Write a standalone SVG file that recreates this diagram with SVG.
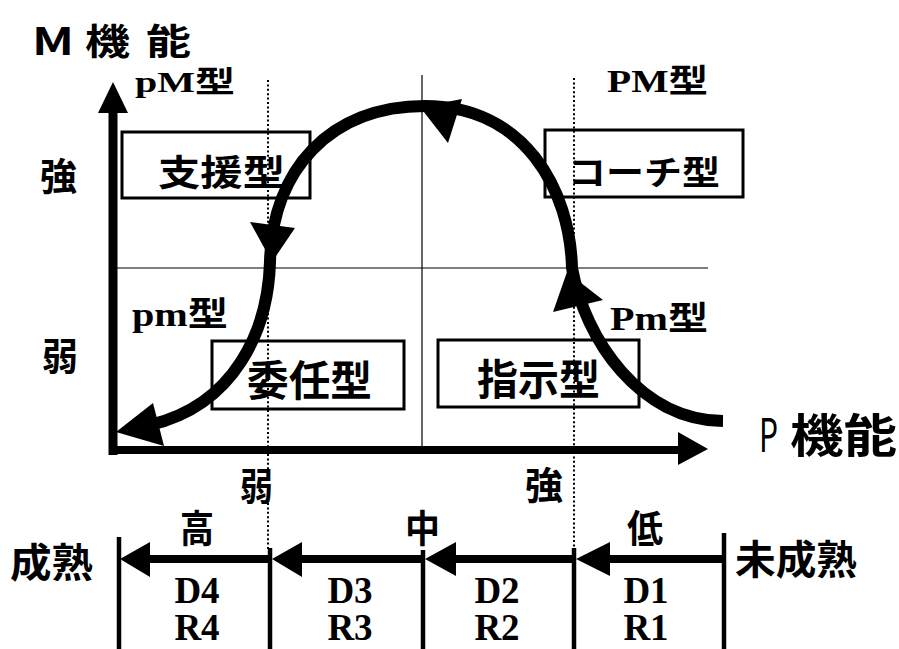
<svg xmlns="http://www.w3.org/2000/svg" width="899" height="649" viewBox="0 0 899 649">
<style>
.g{font-family:"Noto Sans CJK JP","Noto Sans",sans-serif;font-weight:700;fill:#000}
.gn{font-family:"Noto Sans CJK JP","Noto Sans",sans-serif;font-weight:400;fill:#000}
.s{font-family:"Liberation Serif","Noto Sans CJK JP",serif;font-weight:700;fill:#000}
.box{fill:none;stroke:#000;stroke-width:3}
.thin{stroke:#000;stroke-width:1.2;fill:none}
.dot{stroke:#000;stroke-width:2;stroke-dasharray:2 2.4;fill:none}
.curve{fill:none;stroke:#000;stroke-width:12}
.ax{stroke:#000;fill:none}
</style>
<rect width="899" height="649" fill="#fff"/>

<g id="grid">
<line class="thin" x1="113" y1="268" x2="708" y2="268"/>
<line class="thin" x1="422" y1="75" x2="422" y2="452"/>
<line class="dot" x1="268" y1="80" x2="268" y2="470"/>
<line class="dot" x1="268" y1="503" x2="268" y2="550"/>
<line class="dot" x1="574" y1="78" x2="574" y2="550"/>
</g>

<g id="node-shien"><rect class="box" x="122" y="132" width="188" height="66"/>
<text class="g" x="158" y="186" font-size="36" textLength="127" lengthAdjust="spacingAndGlyphs">支援型</text></g>
<g id="node-coach"><rect class="box" x="545" y="130" width="198" height="67"/>
<text class="g" x="568" y="185" font-size="34" textLength="152" lengthAdjust="spacingAndGlyphs">コーチ型</text></g>
<g id="node-inin"><rect class="box" x="212" y="341" width="192" height="68"/>
<text class="g" x="247" y="396" font-size="42" textLength="125" lengthAdjust="spacingAndGlyphs">委任型</text></g>
<g id="node-shiji"><rect class="box" x="438" y="340" width="201" height="67"/>
<text class="g" x="477" y="395" font-size="42" textLength="123" lengthAdjust="spacingAndGlyphs">指示型</text></g>

<g id="labels">
<text class="g" x="32" y="55" font-size="38" textLength="42" lengthAdjust="spacingAndGlyphs">M</text>
<text class="g" x="85" y="55" font-size="36" textLength="45" lengthAdjust="spacingAndGlyphs">機</text>
<text class="g" x="146" y="55" font-size="36" textLength="45" lengthAdjust="spacingAndGlyphs">能</text>
<text class="gn" x="759" y="452" font-size="46" textLength="19" lengthAdjust="spacingAndGlyphs">P</text>
<text class="g" x="790" y="452" font-size="46" textLength="107" lengthAdjust="spacingAndGlyphs">機能</text>
<text class="g" x="40" y="190" font-size="38" textLength="37" lengthAdjust="spacingAndGlyphs">強</text>
<text class="g" x="42" y="370" font-size="38" textLength="36" lengthAdjust="spacingAndGlyphs">弱</text>
<text class="s" x="135" y="92" font-size="30" textLength="100" lengthAdjust="spacingAndGlyphs">pM型</text>
<text class="s" x="607" y="92" font-size="32" textLength="101" lengthAdjust="spacingAndGlyphs">PM型</text>
<text class="s" x="132" y="326" font-size="34" textLength="96" lengthAdjust="spacingAndGlyphs">pm型</text>
<text class="s" x="610" y="330" font-size="33" textLength="98" lengthAdjust="spacingAndGlyphs">Pm型</text>
<text class="g" x="240" y="500" font-size="38" textLength="33" lengthAdjust="spacingAndGlyphs">弱</text>
<text class="g" x="525" y="499" font-size="38" textLength="38" lengthAdjust="spacingAndGlyphs">強</text>
<text class="g" x="180" y="542" font-size="38" textLength="34" lengthAdjust="spacingAndGlyphs">高</text>
<text class="g" x="405" y="542" font-size="38" textLength="35" lengthAdjust="spacingAndGlyphs">中</text>
<text class="g" x="627" y="542" font-size="38" textLength="36" lengthAdjust="spacingAndGlyphs">低</text>
<text class="g" x="10" y="577" font-size="40" textLength="83" lengthAdjust="spacingAndGlyphs">成熟</text>
<text class="g" x="735" y="574" font-size="40" textLength="122" lengthAdjust="spacingAndGlyphs">未成熟</text>
<g class="s" font-size="37" text-anchor="middle">
<text x="197" y="603">D4</text><text x="197" y="640">R4</text>
<text x="350" y="603">D3</text><text x="350" y="640">R3</text>
<text x="497" y="603">D2</text><text x="497" y="640">R2</text>
<text x="646" y="603">D1</text><text x="646" y="640">R1</text>
</g>
</g>

<g id="connectors">
<line class="ax" x1="113" y1="110" x2="113" y2="455" stroke-width="9"/>
<polygon points="113,82 98,113 128,113"/>
<line class="ax" x1="109" y1="450" x2="682" y2="450" stroke-width="8"/>
<polygon points="708,449 678,432 678,465"/>
<path class="curve" d="M723,421 C640,420 585,340 572,268 C570,190 525,106 425,106 C330,106 272,170 270,262 C268,330 235,405 150,425"/>
<polygon points="567,272 553,312 603,300"/>
<polygon points="420,107 462,99 448,143"/>
<polygon points="272,262 250,222 295,228"/>
<polygon points="116,432 153,403 164,446"/>
<g stroke="#000" stroke-width="4.5">
<line x1="119" y1="537" x2="119" y2="649"/>
<line x1="270" y1="548" x2="270" y2="649"/>
<line x1="423" y1="550" x2="423" y2="649"/>
<line x1="574" y1="548" x2="574" y2="649"/>
<line x1="724" y1="533" x2="724" y2="649"/>
</g>
<g stroke="#000" stroke-width="8">
<line x1="145" y1="559" x2="270" y2="559"/>
<line x1="297" y1="559" x2="423" y2="559"/>
<line x1="450" y1="559" x2="574" y2="559"/>
<line x1="605" y1="559" x2="724" y2="559"/>
</g>
<polygon points="120,559 150,542 150,577"/>
<polygon points="272,559 302,542 302,577"/>
<polygon points="425,559 456,542 456,576"/>
<polygon points="576,559 610,542 610,576"/>
</g>
</svg>
